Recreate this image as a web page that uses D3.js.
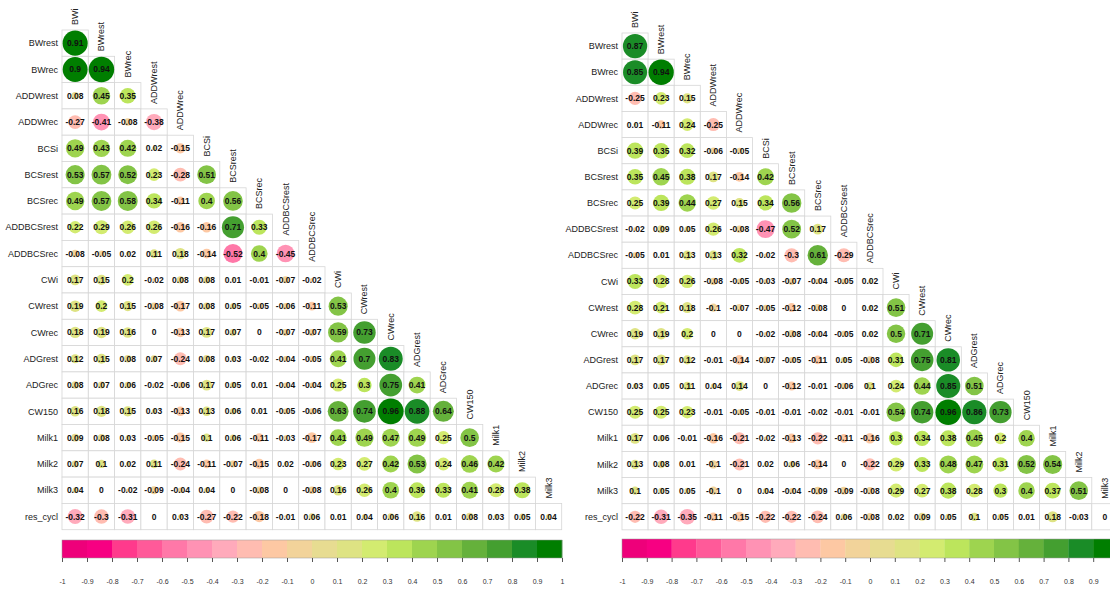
<!DOCTYPE html>
<html>
<head>
<meta charset="utf-8">
<script src="https://cdn.jsdelivr.net/npm/d3@7"></script>
<style>
  body { margin: 0; background: #fff; }
  svg { display: block; font-family: "Liberation Sans", Arial, sans-serif; }
</style>
</head>
<body>
<svg id="chart"></svg>
<script>
// variables of the correlation matrix (columns = first 19, rows = last 19)
const variables = ["BWi","BWrest","BWrec","ADDWrest","ADDWrec","BCSi","BCSrest","BCSrec",
  "ADDBCSrest","ADDBCSrec","CWi","CWrest","CWrec","ADGrest","ADGrec","CW150","Milk1","Milk2","Milk3","res_cycl"];

// lower triangle, left matrix (one row per variable from BWrest down)
const leftValues = [
  [0.91],
  [0.9, 0.94],
  [0.08, 0.45, 0.35],
  [-0.27, -0.41, -0.08, -0.38],
  [0.49, 0.43, 0.42, 0.02, -0.15],
  [0.53, 0.57, 0.52, 0.23, -0.28, 0.51],
  [0.49, 0.57, 0.58, 0.34, -0.11, 0.4, 0.56],
  [0.22, 0.29, 0.26, 0.26, -0.16, -0.16, 0.71, 0.33],
  [-0.08, -0.05, 0.02, 0.11, 0.18, -0.14, -0.52, 0.4, -0.45],
  [0.17, 0.15, 0.2, -0.02, 0.08, 0.08, 0.01, -0.01, -0.07, -0.02],
  [0.19, 0.2, 0.15, -0.08, -0.17, 0.08, 0.05, -0.05, -0.06, -0.11, 0.53],
  [0.18, 0.19, 0.16, 0, -0.13, 0.17, 0.07, 0, -0.07, -0.07, 0.59, 0.73],
  [0.12, 0.15, 0.08, 0.07, -0.24, 0.08, 0.03, -0.02, -0.04, -0.05, 0.41, 0.7, 0.83],
  [0.08, 0.07, 0.06, -0.02, -0.06, 0.17, 0.05, 0.01, -0.04, -0.04, 0.25, 0.3, 0.75, 0.41],
  [0.16, 0.18, 0.15, 0.03, -0.13, 0.13, 0.06, 0.01, -0.05, -0.06, 0.63, 0.74, 0.96, 0.88, 0.64],
  [0.09, 0.08, 0.03, -0.05, -0.15, 0.1, 0.06, -0.11, -0.03, -0.17, 0.41, 0.49, 0.47, 0.49, 0.25, 0.5],
  [0.07, 0.1, 0.02, 0.11, -0.24, -0.11, -0.07, -0.15, 0.02, -0.06, 0.23, 0.27, 0.42, 0.53, 0.24, 0.46, 0.42],
  [0.04, 0, -0.02, -0.09, -0.04, 0.04, 0, -0.08, 0, -0.08, 0.16, 0.26, 0.4, 0.36, 0.33, 0.41, 0.28, 0.38],
  [-0.32, -0.3, -0.31, 0, 0.03, -0.27, -0.22, -0.18, -0.01, 0.06, 0.01, 0.04, 0.06, 0.16, 0.01, 0.08, 0.03, 0.05, 0.04]
];

// lower triangle, right matrix
const rightValues = [
  [0.87],
  [0.85, 0.94],
  [-0.25, 0.23, 0.15],
  [0.01, -0.11, 0.24, -0.25],
  [0.39, 0.35, 0.32, -0.06, -0.05],
  [0.35, 0.45, 0.38, 0.17, -0.14, 0.42],
  [0.25, 0.39, 0.44, 0.27, 0.15, 0.34, 0.56],
  [-0.02, 0.09, 0.05, 0.26, -0.08, -0.47, 0.52, 0.17],
  [-0.05, 0.01, 0.13, 0.13, 0.32, -0.02, -0.3, 0.61, -0.29],
  [0.33, 0.28, 0.26, -0.08, -0.05, -0.03, -0.07, -0.04, -0.05, 0.02],
  [0.28, 0.21, 0.18, -0.1, -0.07, -0.05, -0.12, -0.08, 0, 0.02, 0.51],
  [0.19, 0.19, 0.2, 0, 0, -0.02, -0.08, -0.04, -0.05, 0.02, 0.5, 0.71],
  [0.17, 0.17, 0.12, -0.01, -0.14, -0.07, -0.05, -0.11, 0.05, -0.08, 0.31, 0.75, 0.81],
  [0.03, 0.05, 0.11, 0.04, 0.14, 0, -0.12, -0.01, -0.06, 0.1, 0.24, 0.44, 0.85, 0.51],
  [0.25, 0.25, 0.23, -0.01, -0.05, -0.01, -0.01, -0.02, -0.01, -0.01, 0.54, 0.74, 0.96, 0.86, 0.73],
  [0.17, 0.06, -0.01, -0.16, -0.21, -0.02, -0.13, -0.22, -0.11, -0.16, 0.3, 0.34, 0.38, 0.45, 0.2, 0.4],
  [0.13, 0.08, 0.01, -0.1, -0.21, 0.02, 0.06, -0.14, 0, -0.22, 0.29, 0.33, 0.48, 0.47, 0.31, 0.52, 0.54],
  [0.1, 0.05, 0.05, -0.1, 0, 0.04, -0.04, -0.09, -0.09, -0.08, 0.29, 0.27, 0.38, 0.28, 0.3, 0.4, 0.37, 0.51],
  [-0.22, -0.31, -0.35, -0.11, -0.15, -0.22, -0.22, -0.24, 0.06, -0.08, 0.02, 0.09, 0.05, 0.1, 0.05, 0.01, 0.18, -0.03, 0]
];

// colour bar ticks
const legendTicks = [-1, -0.9, -0.8, -0.7, -0.6, -0.5, -0.4, -0.3, -0.2, -0.1, 0,
  0.1, 0.2, 0.3, 0.4, 0.5, 0.6, 0.7, 0.8, 0.9, 1];

// 20 step palette, -1 -> 1
const palette = ["#ee007a","#f70082","#ff3a8c","#ff5a99","#ff78a8","#ff92b4","#ffaabb","#ffbcb1",
  "#fdc8a3","#f2d39a","#e7dc91","#dee383","#d3eb70","#bce55c","#9ed44f","#83c446","#65b13b",
  "#449f30","#1a8c27","#007e00"];

const W = 1110, H = 590;
const svg = d3.select("#chart").attr("width", W).attr("height", H);

const colorScale = d3.scaleQuantize().domain([-1, 1]).range(palette);
const fmt = v => String(+v.toFixed(2));

function drawPanel(values, opt) {
  const cols = variables.slice(0, 19);
  const rows = variables.slice(1);
  const g = svg.append("g");

  const x = d3.scaleBand().domain(cols).range([opt.x0, opt.x0 + opt.cw * cols.length]);
  const y = d3.scaleBand().domain(rows).range([opt.y0, opt.y0 + opt.ch * rows.length]);

  const cells = [];
  values.forEach((row, i) => row.forEach((v, j) => cells.push({ r: rows[i], c: cols[j], v })));

  // cell grid
  g.selectAll("rect.cell").data(cells).enter().append("rect")
      .attr("class", "cell")
      .attr("x", d => x(d.c))
      .attr("y", d => y(d.r))
      .attr("width", x.bandwidth())
      .attr("height", y.bandwidth())
      .attr("fill", "#fff")
      .attr("stroke", "#d6d6d6")
      .attr("stroke-width", 0.8);

  const rMax = Math.min(x.bandwidth(), y.bandwidth()) / 2;
  g.selectAll("circle").data(cells).enter().append("circle")
      .attr("cx", d => x(d.c) + x.bandwidth() / 2)
      .attr("cy", d => y(d.r) + y.bandwidth() / 2)
      .attr("r", d => Math.sqrt(Math.abs(d.v)) * rMax)
      .attr("fill", d => colorScale(d.v));

  g.selectAll("text.val").data(cells).enter().append("text")
      .attr("class", "val")
      .attr("x", d => x(d.c) + x.bandwidth() / 2)
      .attr("y", d => y(d.r) + y.bandwidth() / 2)
      .attr("dy", "0.35em")
      .attr("text-anchor", "middle")
      .attr("font-size", 8.5)
      .attr("font-weight", "bold")
      .attr("fill", "#111")
      .text(d => fmt(d.v));

  // row labels
  g.selectAll("text.rowlab").data(rows).enter().append("text")
      .attr("class", "rowlab")
      .attr("x", opt.x0 - 4)
      .attr("y", d => y(d) + y.bandwidth() / 2)
      .attr("dy", "0.35em")
      .attr("text-anchor", "end")
      .attr("font-size", 9)
      .attr("fill", "#222")
      .text(d => d);

  // column labels, vertical, above first cell of each column
  g.selectAll("text.collab").data(cols).enter().append("text")
      .attr("class", "collab")
      .attr("transform", (d, j) =>
        `translate(${x(d) + x.bandwidth() / 2 + 3},${y(rows[j]) - 5}) rotate(-90)`)
      .attr("text-anchor", "start")
      .attr("font-size", 9)
      .attr("fill", "#222")
      .text(d => d);

  // colour bar
  const lx = d3.scaleLinear().domain([-1, 1]).range([opt.x0, opt.x0 + opt.barW]);
  const bins = d3.range(palette.length).map(k => ({
    a: -1 + k * 2 / palette.length, b: -1 + (k + 1) * 2 / palette.length, col: palette[k]
  }));
  g.selectAll("rect.bar").data(bins).enter().append("rect")
      .attr("class", "bar")
      .attr("x", d => lx(d.a))
      .attr("y", opt.barY)
      .attr("width", d => lx(d.b) - lx(d.a) + 0.3)
      .attr("height", opt.barH)
      .attr("fill", d => d.col);
  g.append("rect")
      .attr("x", lx(-1)).attr("y", opt.barY)
      .attr("width", lx(1) - lx(-1)).attr("height", opt.barH)
      .attr("fill", "none").attr("stroke", "#999").attr("stroke-width", 0.5);

  // only ticks that fall inside the page
  const shown = legendTicks.filter(t => lx(t) < W - 4);
  const axis = d3.axisBottom(lx)
      .tickValues(shown)
      .tickSize(4)
      .tickPadding(17)
      .tickFormat(d => String(+d.toFixed(1)));
  const ag = g.append("g")
      .attr("transform", `translate(0,${opt.barY + opt.barH})`)
      .call(axis);
  ag.select(".domain").remove();
  ag.selectAll(".tick line").attr("stroke", "#555");
  ag.selectAll(".tick text")
      .attr("font-size", 7)
      .attr("font-family", "Liberation Sans, Arial, sans-serif")
      .attr("fill", "#333");
}

drawPanel(leftValues, { x0: 62, y0: 30, cw: 26.3, ch: 26.3, barY: 540, barH: 18, barW: 500 });
drawPanel(rightValues, { x0: 622, y0: 33, cw: 26.1, ch: 26.15, barY: 539, barH: 19, barW: 496 });
</script>
</body>
</html>
